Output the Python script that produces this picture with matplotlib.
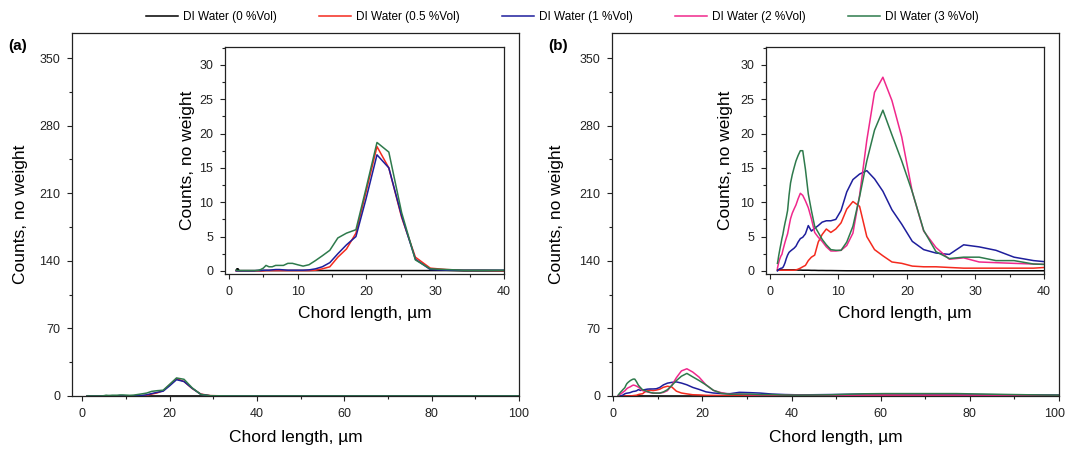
import matplotlib
matplotlib.use("Agg")
import matplotlib.pyplot as plt
import matplotlib.transforms as mtransforms
from matplotlib.ticker import MultipleLocator

plt.rcParams['font.family'] = ['Liberation Sans', 'DejaVu Sans']

# ---------------- data ----------------
series_labels = ["DI Water (0 %Vol)", "DI Water (0.5 %Vol)", "DI Water (1 %Vol)",
                 "DI Water (2 %Vol)", "DI Water (3 %Vol)"]
series_colors = ["#000000", "#F42A1E", "#1E1E9C", "#F0288C", "#2E7A4C"]

# panel (a) chord-length channels (um)
x_a = [1.08, 1.17, 1.26, 1.36, 1.47, 1.58, 1.71, 1.85, 2.00, 2.15, 2.33, 2.51, 2.71, 2.93,
       3.16, 3.41, 3.69, 3.98, 4.30, 4.64, 5.01, 5.41, 5.84, 6.31, 6.81, 7.36, 7.94, 8.58,
       9.26, 10.00, 10.80, 11.66, 12.59, 13.59, 14.68, 15.85, 17.11, 18.48, 19.95, 21.54,
       23.26, 25.12, 27.12, 29.29, 31.62, 34.15, 36.87, 39.81, 42.99, 46.42, 50.12, 54.12,
       58.43, 63.10, 68.13, 73.56, 79.43, 85.77, 92.61, 100.00]

a_0 = [0.1, 0.3, 0.2, 0.3, 0.1, 0.05, 0.05, 0.05, 0.05, 0.05, 0.05, 0.05, 0.05, 0.05,
       0.05, 0.05, 0.05, 0.05, 0.05, 0.05, 0.05, 0.05, 0.05, 0.05, 0.05, 0.05, 0.05, 0.05,
       0.05, 0.05, 0.05, 0.05, 0.05, 0.05, 0.05, 0.05, 0.05, 0.05, 0.05, 0.05,
       0.05, 0.05, 0.05, 0.05, 0.05, 0.0, 0.0, 0.0, 0.0, 0.0, 0.0, 0.0,
       0.0, 0.0, 0.0, 0.0, 0.0, 0.0, 0.0, 0.0]
a_05 = [0.0, 0.0, 0.0, 0.0, 0.0, 0.0, 0.0, 0.0, 0.0, 0.0, 0.0, 0.0, 0.0, 0.0,
        0.0, 0.0, 0.0, 0.0, 0.0, 0.0, 0.0, 0.05, 0.05, 0.05, 0.05, 0.05, 0.05, 0.05,
        0.05, 0.05, 0.05, 0.05, 0.1, 0.3, 0.6, 2.0, 3.2, 5.5, 11.5, 18.1,
        15.0, 7.8, 2.0, 0.4, 0.2, 0.1, 0.1, 0.05, 0.05, 0.05, 0.05, 0.05,
        0.05, 0.05, 0.05, 0.05, 0.05, 0.05, 0.05, 0.05]
a_1 = [0.0, 0.0, 0.0, 0.0, 0.0, 0.0, 0.0, 0.0, 0.0, 0.0, 0.0, 0.0, 0.0, 0.0,
       0.0, 0.0, 0.0, 0.05, 0.05, 0.05, 0.1, 0.1, 0.1, 0.15, 0.2, 0.2, 0.15, 0.1,
       0.1, 0.1, 0.1, 0.15, 0.3, 0.6, 1.2, 2.5, 3.8, 5.0, 10.5, 16.9,
       15.0, 8.0, 1.7, 0.2, 0.1, 0.1, 0.1, 0.1, 0.1, 0.1, 0.1, 0.1,
       0.1, 0.1, 0.1, 0.1, 0.1, 0.1, 0.1, 0.1]
a_3 = [0.1, 0.1, 0.05, 0.05, 0.05, 0.05, 0.05, 0.05, 0.05, 0.05, 0.05, 0.05, 0.05, 0.05,
       0.05, 0.05, 0.05, 0.05, 0.1, 0.2, 0.4, 0.8, 0.6, 0.6, 0.8, 0.8, 0.8, 1.1,
       1.1, 0.9, 0.7, 0.9, 1.5, 2.2, 3.0, 4.8, 5.5, 6.0, 12.0, 18.7,
       17.3, 8.5, 1.6, 0.3, 0.2, 0.1, 0.1, 0.1, 0.1, 0.1, 0.1, 0.1,
       0.1, 0.1, 0.1, 0.1, 0.1, 0.1, 0.1, 0.1]

# panel (b) chord-length channels (um)
x_b = [1.12, 1.21, 1.30, 1.41, 1.52, 1.64, 1.77, 1.91, 2.07, 2.23, 2.41, 2.60, 2.81, 3.03,
       3.28, 3.54, 3.82, 4.13, 4.46, 4.81, 5.20, 5.62, 6.07, 6.55, 7.07, 7.64, 8.25, 8.91,
       9.63, 10.40, 11.23, 12.13, 13.10, 14.15, 15.28, 16.50, 17.82, 19.25, 20.79, 22.45,
       24.25, 26.19, 28.28, 30.54, 32.99, 35.63, 38.48, 41.56, 44.88, 48.47, 52.35, 56.54,
       61.06, 65.95, 71.22, 76.92, 83.07, 89.72, 96.90, 104.65]

b_0 = [0.15, 0.15, 0.15, 0.15, 0.15, 0.15, 0.15, 0.15, 0.15, 0.15, 0.15, 0.15, 0.15, 0.15,
       0.15, 0.15, 0.15, 0.12, 0.12, 0.1, 0.1, 0.1, 0.08, 0.08, 0.06, 0.06, 0.05, 0.05,
       0.04, 0.03, 0.02, 0.02, 0.02, 0.02, 0.02, 0.02, 0.02, 0.02, 0.02, 0.02,
       0.02, 0.02, 0.02, 0.02, 0.02, 0.02, 0.02, 0.02, 0.02, 0.02, 0.02, 0.02,
       0.02, 0.02, 0.02, 0.02, 0.02, 0.02, 0.02, 0.02]
b_05 = [0.1, 0.1, 0.1, 0.1, 0.1, 0.1, 0.1, 0.1, 0.1, 0.1, 0.1, 0.1, 0.1, 0.1,
        0.1, 0.1, 0.15, 0.25, 0.4, 0.6, 0.8, 1.5, 2.0, 2.3, 4.2, 5.3, 6.1, 5.6,
        6.1, 7.0, 9.0, 10.1, 9.4, 5.0, 3.1, 2.2, 1.3, 1.1, 0.7, 0.6,
        0.6, 0.5, 0.4, 0.4, 0.4, 0.4, 0.4, 0.6, 0.6, 0.7, 0.8, 0.9,
        1.0, 1.0, 1.0, 0.9, 0.8, 0.7, 0.6, 0.5]
b_1 = [0.0, 0.1, 0.2, 0.3, 0.3, 0.4, 0.4, 0.5, 0.8, 1.2, 1.8, 2.3, 2.7, 2.9,
       3.1, 3.3, 3.6, 4.2, 4.7, 4.9, 5.4, 6.6, 5.8, 6.2, 6.6, 7.1, 7.3, 7.3,
       7.5, 8.8, 11.5, 13.3, 14.1, 14.6, 13.4, 11.6, 8.9, 6.8, 4.3, 3.1,
       2.6, 2.4, 3.8, 3.5, 3.0, 2.0, 1.5, 1.2, 1.3, 1.5, 1.7, 2.0,
       2.2, 2.0, 1.8, 1.6, 1.4, 1.2, 1.0, 0.9]
b_2 = [0.4, 0.8, 1.2, 1.6, 1.9, 2.2, 2.4, 3.0, 3.6, 4.2, 4.8, 5.4, 6.5, 7.6,
       8.4, 9.0, 9.6, 10.5, 11.3, 11.0, 10.2, 9.2, 7.6, 5.6, 4.9, 4.3, 3.5, 2.9,
       2.9, 3.0, 3.7, 5.5, 11.0, 19.0, 26.0, 28.2, 24.8, 19.5, 11.5, 5.8,
       3.4, 1.7, 1.9, 1.3, 1.2, 1.1, 1.0, 0.9, 0.8, 0.8, 0.9, 1.0,
       1.0, 1.0, 1.0, 1.0, 0.9, 0.7, 0.5, 0.4]
b_3 = [1.1, 1.6, 2.2, 2.8, 3.4, 4.0, 4.7, 5.3, 6.2, 7.0, 7.8, 8.8, 11.0, 12.8,
       14.0, 15.0, 16.0, 16.8, 17.5, 17.5, 14.8, 11.2, 8.8, 6.5, 5.6, 4.6, 3.8, 3.1,
       3.0, 3.0, 4.2, 6.5, 10.8, 16.0, 20.5, 23.4, 19.8, 16.0, 11.5, 5.9,
       2.8, 1.8, 2.0, 2.0, 1.5, 1.5, 1.0, 0.9, 1.0, 1.2, 1.8, 2.3,
       2.5, 2.5, 2.5, 2.5, 2.0, 1.5, 1.0, 0.8]

main_yticks = [0, 70, 140, 210, 280, 350]
main_xticks = [0, 20, 40, 60, 80, 100]
inset_yticks = [0, 5, 10, 15, 20, 25, 30]
inset_xticks = [0, 10, 20, 30, 40]

panel_a = [(a_0, 0), (a_05, 1), (a_1, 2), (a_3, 4)]
panel_b = [(b_0, 0), (b_05, 1), (b_1, 2), (b_2, 3), (b_3, 4)]

# ---------------- figure ----------------
W, H = 1067, 453
fig = plt.figure(figsize=(W / 100, H / 100), dpi=100)


def px_axes(l, t, r, b):
    return fig.add_axes([l / W, 1 - b / H, (r - l) / W, (b - t) / H])


LW = 1.1
TICK_FS = 9
LABEL_FS = 12.5


def style(ax, xt, yt, xminor, yminor):
    ax.set_xticks(xt)
    ax.set_yticks(yt)
    ax.xaxis.set_minor_locator(MultipleLocator(xminor))
    ax.yaxis.set_minor_locator(MultipleLocator(yminor))
    ax.tick_params(which='both', direction='out', top=False, right=False,
                   labelsize=TICK_FS, width=0.8, colors='#222222', labelcolor='#222222')
    ax.tick_params(which='major', length=3.5, pad=5)
    ax.tick_params(which='minor', length=2)
    for s in ax.spines.values():
        s.set_linewidth(0.9)
        s.set_color('#222222')


def draw(ax, x, data):
    for vals, ci in data:
        ax.plot(x, vals, color=series_colors[ci], lw=LW, label=series_labels[ci],
                solid_joinstyle='round')


# main axes
ax_a = px_axes(72, 33, 519, 396)
ax_b = px_axes(612, 33, 1059, 396)
for ax, x, data, xl, ylx in [(ax_a, x_a, panel_a, -2.4, -0.098),
                             (ax_b, x_b, panel_b, -0.3, -0.107)]:
    draw(ax, x, data)
    ax.set_xlim(xl, 100)
    ax.set_ylim(0, 376)
    style(ax, main_xticks, main_yticks, 10, 35)
    ax.set_xlabel("Chord length, µm", fontsize=LABEL_FS)
    ax.set_ylabel("Counts, no weight", fontsize=LABEL_FS)
    ax.xaxis.set_label_coords(0.5, -0.095)
    ax.yaxis.set_label_coords(ylx, 0.5)

# keep the last tick label of panel (b) inside the canvas
last = ax_b.get_xticklabels()[-1]
last.set_transform(last.get_transform() +
                   mtransforms.ScaledTranslation(-4 / 100, 0, fig.dpi_scale_trans))

# insets
in_a = px_axes(225, 47, 504, 274)
in_b = px_axes(766, 47, 1044, 274)
for ax, x, data, ylx in [(in_a, x_a, panel_a, -0.108), (in_b, x_b, panel_b, -0.119)]:
    draw(ax, x, data)
    ax.set_xlim(-0.55, 40)
    ax.set_ylim(-0.45, 32.6)
    style(ax, inset_xticks, inset_yticks, 5, 2.5)
    ax.set_xlabel("Chord length, µm", fontsize=LABEL_FS)
    ax.set_ylabel("Counts, no weight", fontsize=LABEL_FS)
    ax.xaxis.set_label_coords(0.5, -0.14)
    ax.yaxis.set_label_coords(ylx, 0.5)

fig.text(8 / W, 1 - 46 / H, "(a)", fontsize=11, fontweight='bold', va='center', ha='left')
fig.text(548 / W, 1 - 46 / H, "(b)", fontsize=11, fontweight='bold', va='center', ha='left')

handles = [plt.Line2D([], [], color=c, lw=LW) for c in series_colors]
fig.legend(handles, series_labels, loc='center', bbox_to_anchor=(0.527, 1 - 17 / H),
           ncol=5, frameon=False, handlelength=2.7, handletextpad=0.42,
           columnspacing=3.6, prop={'size': 8.5})

fig.savefig("out.png", dpi=100)
